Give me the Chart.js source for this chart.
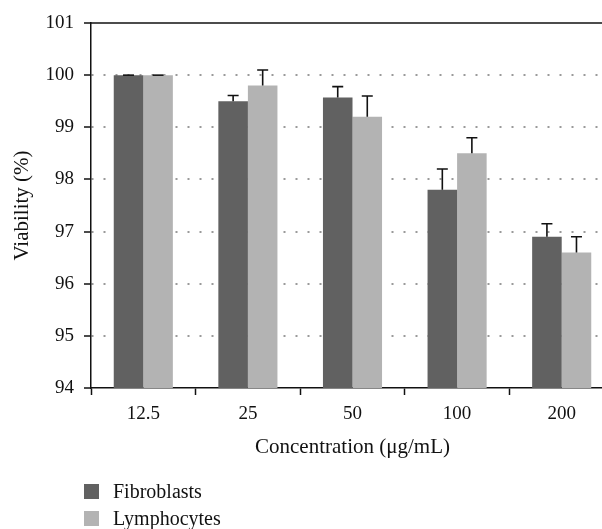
<!DOCTYPE html>
<html>
<head>
<meta charset="utf-8">
<script src="https://cdn.jsdelivr.net/npm/chart.js@4/dist/chart.umd.min.js"></script>
<style>
  html, body { margin: 0; padding: 0; background: #fff; overflow: hidden; }
  #wrap { position: relative; width: 614px; height: 529px; }
  #legend { position: absolute; left: 84px; top: 478px; font-family: 'Liberation Serif', 'Times New Roman', serif; font-size: 20px; color: #111; }
  .item { display: flex; align-items: center; height: 27px; }
  .box { width: 15px; height: 15px; margin-right: 14px; }
</style>
</head>
<body>
<div id="wrap">
  <canvas id="viabilityChart"></canvas>
  <div id="legend"></div>
</div>
<script>
const categories = ['12.5', '25', '50', '100', '200'];
const fibroblasts = [100, 99.5, 99.57, 97.8, 96.9];
const fibroblastsErr = [0, 0.11, 0.21, 0.4, 0.25];
const lymphocytes = [100, 99.8, 99.2, 98.5, 96.6];
const lymphocytesErr = [0, 0.3, 0.4, 0.3, 0.3];
const yTicks = [94, 95, 96, 97, 98, 99, 100, 101];

const serif = "'Liberation Serif', 'Times New Roman', serif";

// error bars + top frame line
const extras = {
  id: 'extras',
  afterDatasetsDraw(chart) {
    const ctx = chart.ctx;
    const y = chart.scales.y;
    ctx.save();
    ctx.strokeStyle = '#111';
    ctx.lineWidth = 1.6;
    chart.data.datasets.forEach((ds, i) => {
      chart.getDatasetMeta(i).data.forEach((bar, j) => {
        const top = y.getPixelForValue(ds.data[j] + ds.errors[j]);
        ctx.beginPath();
        ctx.moveTo(bar.x, bar.y);
        ctx.lineTo(bar.x, top);
        ctx.moveTo(bar.x - 5.5, top);
        ctx.lineTo(bar.x + 5.5, top);
        ctx.stroke();
      });
    });
    const a = chart.chartArea;
    ctx.beginPath();
    ctx.moveTo(a.left, a.top);
    ctx.lineTo(a.right, a.top);
    ctx.stroke();
    ctx.restore();
  }
};

const ctx = document.getElementById('viabilityChart').getContext('2d');
const viabilityChart = new Chart(ctx, {
  type: 'bar',
  data: {
    labels: categories,
    datasets: [
      { label: 'Fibroblasts', data: fibroblasts, errors: fibroblastsErr, backgroundColor: '#616161' },
      { label: 'Lymphocytes', data: lymphocytes, errors: lymphocytesErr, backgroundColor: '#b3b3b3' }
    ]
  },
  options: {
    responsive: true,
    maintainAspectRatio: false,
    animation: false,
    layout: { padding: { top: 23, bottom: 61, left: 0, right: 0 } },
    datasets: { bar: { barPercentage: 1, categoryPercentage: 0.565 } },
    plugins: {
      legend: { display: false },
      tooltip: { enabled: false }
    },
    scales: {
      x: {
        afterFit: s => { s.height = 80; },
        grid: { drawOnChartArea: false, tickLength: 7, tickColor: '#111', tickWidth: 1.5 },
        border: { color: '#111', width: 1.5 },
        ticks: { color: '#111', padding: 8, font: { family: serif, size: 19 } },
        title: {
          display: true,
          text: 'Concentration (\u03bcg/mL)',
          color: '#111',
          padding: { top: 4, bottom: 8 },
          font: { family: serif, size: 21 }
        }
      },
      y: {
        min: 94,
        max: 101,
        afterFit: s => { s.width = 91; },
        afterBuildTicks: s => { s.ticks = yTicks.map(v => ({ value: v })); },
        grid: {
          color: c => (c.tick && (c.tick.value === 94 || c.tick.value === 101)) ? 'rgba(0,0,0,0)' : '#9a9a9a',
          lineWidth: 2,
          tickLength: 7,
          tickColor: '#111',
          tickWidth: 1.5
        },
        border: { color: '#111', width: 1.5, dash: [2, 10], dashOffset: -12 },
        ticks: { color: '#111', padding: 10, font: { family: serif, size: 19 } },
        title: {
          display: true,
          text: 'Viability (%)',
          color: '#111',
          padding: { top: 10, bottom: 0 },
          font: { family: serif, size: 21 }
        }
      }
    }
  },
  plugins: [extras]
});

// legend stacked vertically under the chart
const legend = document.getElementById('legend');
viabilityChart.data.datasets.forEach(ds => {
  const row = document.createElement('div');
  row.className = 'item';
  row.innerHTML = '<span class="box" style="background:' + ds.backgroundColor + '"></span>' + ds.label;
  legend.appendChild(row);
});
</script>
</body>
</html>
